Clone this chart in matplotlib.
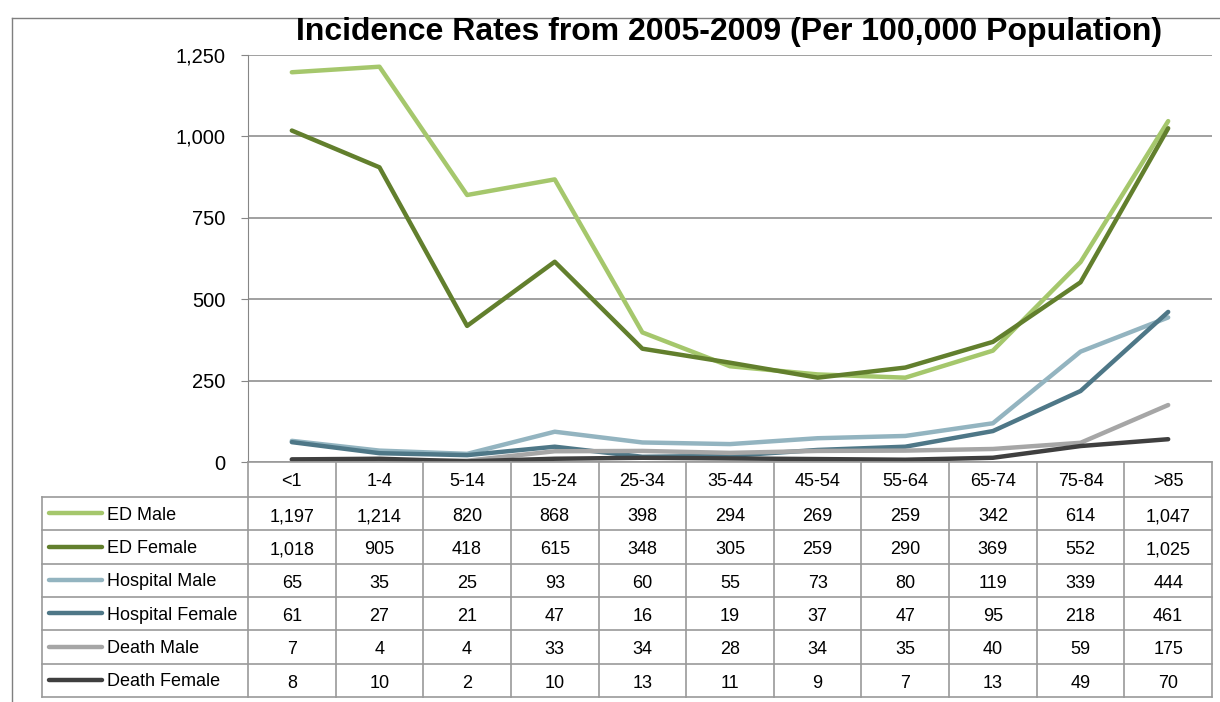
import matplotlib
matplotlib.use("Agg")
import matplotlib.pyplot as plt
from matplotlib.lines import Line2D
from matplotlib.ticker import FuncFormatter

plt.rcParams["font.family"] = ["Liberation Sans", "DejaVu Sans"]

# data
age_groups = ["<1", "1-4", "5-14", "15-24", "25-34", "35-44", "45-54", "55-64", "65-74", "75-84", ">85"]
ed_male = [1197, 1214, 820, 868, 398, 294, 269, 259, 342, 614, 1047]
ed_female = [1018, 905, 418, 615, 348, 305, 259, 290, 369, 552, 1025]
hosp_male = [65, 35, 25, 93, 60, 55, 73, 80, 119, 339, 444]
hosp_female = [61, 27, 21, 47, 16, 19, 37, 47, 95, 218, 461]
death_male = [7, 4, 4, 33, 34, 28, 34, 35, 40, 59, 175]
death_female = [8, 10, 2, 10, 13, 11, 9, 7, 13, 49, 70]

series_names = ["ED Male", "ED Female", "Hospital Male", "Hospital Female", "Death Male", "Death Female"]
series_vals = [ed_male, ed_female, hosp_male, hosp_female, death_male, death_female]
series_colors = ["#a5c76c", "#627f2d", "#93b4c0", "#4e7787", "#a6a6a6", "#3f3f3f"]

W, H = 1220, 702
fig = plt.figure(figsize=(W / 100, H / 100), dpi=100)


def fx(px):
    return px / W


def fy(py):
    return 1 - py / H


# plot area in pixels
left, right, top, bottom = 248, 1212, 55, 462
ax = fig.add_axes([fx(left), fy(bottom), fx(right) - fx(left), fy(top) - fy(bottom)])

x = list(range(len(age_groups)))
for vals, col in zip(series_vals, series_colors):
    ax.plot(x, vals, color=col, lw=3.2, solid_capstyle="round", zorder=3)

ax.set_xlim(-0.5, len(age_groups) - 0.5)
ax.set_ylim(0, 1250)
ax.set_yticks([0, 250, 500, 750, 1000, 1250])
ax.yaxis.set_major_formatter(FuncFormatter(lambda v, p: f"{int(v):,}"))
ax.tick_params(axis="y", length=5, color="#868686", labelsize=14.5, pad=11)
ax.set_xticks([])
ax.grid(axis="y", color="#868686", lw=1.1)
for s in ["top", "right", "bottom"]:
    ax.spines[s].set_visible(False)
ax.spines["left"].set_color("#868686")
ax.set_facecolor("none")

# title
fig.text(fx(729), fy(32), "Incidence Rates from 2005-2009 (Per 100,000 Population)",
         ha="center", va="center", fontsize=23, fontweight="bold")

# outer frame (partial)
fig.add_artist(Line2D([fx(12), fx(12)], [fy(18), fy(702)], color="#7f7f7f", lw=1))
fig.add_artist(Line2D([fx(12), fx(1220)], [fy(18), fy(18)], color="#7f7f7f", lw=1))

# data table below the axis
gc = "#9a9a9a"
col_w = (right - left) / len(age_groups)
header_bot = 497
row_h = (697 - header_bot) / len(series_names)
leg_left = 42

# horizontal lines
fig.add_artist(Line2D([fx(left), fx(right)], [fy(bottom), fy(bottom)], color=gc, lw=1.2))
for r in range(len(series_names) + 1):
    yy = header_bot + r * row_h
    fig.add_artist(Line2D([fx(leg_left), fx(right)], [fy(yy), fy(yy)], color=gc, lw=1.2))
# vertical lines
for c in range(len(age_groups) + 1):
    xx = left + c * col_w
    fig.add_artist(Line2D([fx(xx), fx(xx)], [fy(bottom), fy(697)], color=gc, lw=1.2))
fig.add_artist(Line2D([fx(leg_left), fx(leg_left)], [fy(header_bot), fy(697)], color=gc, lw=1.2))

# header labels
for c, lab in enumerate(age_groups):
    fig.text(fx(left + (c + 0.5) * col_w), fy((bottom + header_bot) / 2 + 2), lab,
             ha="center", va="center", fontsize=13)

# rows
for r, (name, vals, col) in enumerate(zip(series_names, series_vals, series_colors)):
    yc = header_bot + (r + 0.5) * row_h
    fig.add_artist(Line2D([fx(49), fx(102)], [fy(yc - 0.5), fy(yc - 0.5)], color=col, lw=3.2,
                          solid_capstyle="round"))
    fig.text(fx(107), fy(yc + 1.5), name, ha="left", va="center", fontsize=13)
    for c, v in enumerate(vals):
        fig.text(fx(left + (c + 0.5) * col_w), fy(yc + 3), f"{v:,}",
                 ha="center", va="center", fontsize=13)

fig.savefig("out.png", dpi=100)
